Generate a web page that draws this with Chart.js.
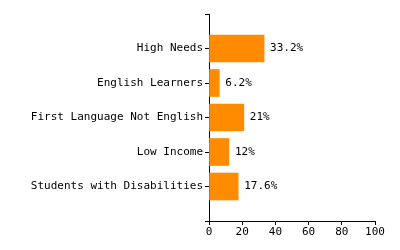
<!DOCTYPE html>
<html>
<head>
<meta charset="utf-8">
<script src="https://cdn.jsdelivr.net/npm/chart.js@4"></script>
<style>
  html, body { margin: 0; padding: 0; background: #fff; }
  #wrap { width: 400px; height: 250px; }
</style>
</head>
<body>
<div id="wrap"><canvas id="barChart" width="400" height="250"></canvas></div>
<script>
// blank slots at each end so the axis has room above and below the bars
const groups = ['', 'High Needs', 'English Learners', 'First Language Not English', 'Low Income', 'Students with Disabilities', ''];
const percents = [null, 33.2, 6.2, 21, 12, 17.6, null];
const xTicks = [0, 20, 40, 60, 80, 100];

const monoFont = { family: '"DejaVu Sans Mono", "Liberation Mono", monospace', size: 11 };

// write "33.2%" etc. just past the end of each bar
const valueLabels = {
    id: 'valueLabels',
    afterDatasetsDraw(chart) {
        const ctx = chart.ctx;
        const meta = chart.getDatasetMeta(0);
        ctx.save();
        ctx.font = '11px ' + monoFont.family;
        ctx.fillStyle = '#000';
        ctx.textAlign = 'left';
        ctx.textBaseline = 'middle';
        meta.data.forEach((bar, i) => {
            const v = percents[i];
            if (v === null) return;
            ctx.fillText(v + '%', bar.x + 6, bar.y);
        });
        ctx.restore();
    }
};

new Chart(document.querySelector('#barChart'), {
    type: 'bar',
    data: {
        labels: groups,
        datasets: [{
            data: percents,
            backgroundColor: '#ff8c00',
            borderWidth: 0,
            barThickness: 27
        }]
    },
    options: {
        indexAxis: 'y',
        responsive: false,
        animation: false,
        layout: { padding: { top: 14, right: 25, left: 0, bottom: 0 } },
        plugins: { legend: { display: false }, tooltip: { enabled: false } },
        scales: {
            y: {
                type: 'category',
                offset: false,
                grid: { offset: false, drawOnChartArea: false, color: '#000', tickLength: 4 },
                border: { color: '#000', width: 1 },
                ticks: { color: '#000', font: monoFont, padding: 2, autoSkip: false },
                afterFit(scale) { scale.width = 209; }
            },
            x: {
                min: 0,
                max: 100,
                afterBuildTicks(scale) { scale.ticks = xTicks.map(v => ({ value: v })); },
                grid: { drawOnChartArea: false, color: '#000', tickLength: 4 },
                border: { color: '#000', width: 1 },
                ticks: { color: '#000', font: monoFont, padding: 1, maxRotation: 0 },
                afterFit(scale) { scale.height = 29; }
            }
        }
    },
    plugins: [valueLabels]
});
</script>
</body>
</html>
